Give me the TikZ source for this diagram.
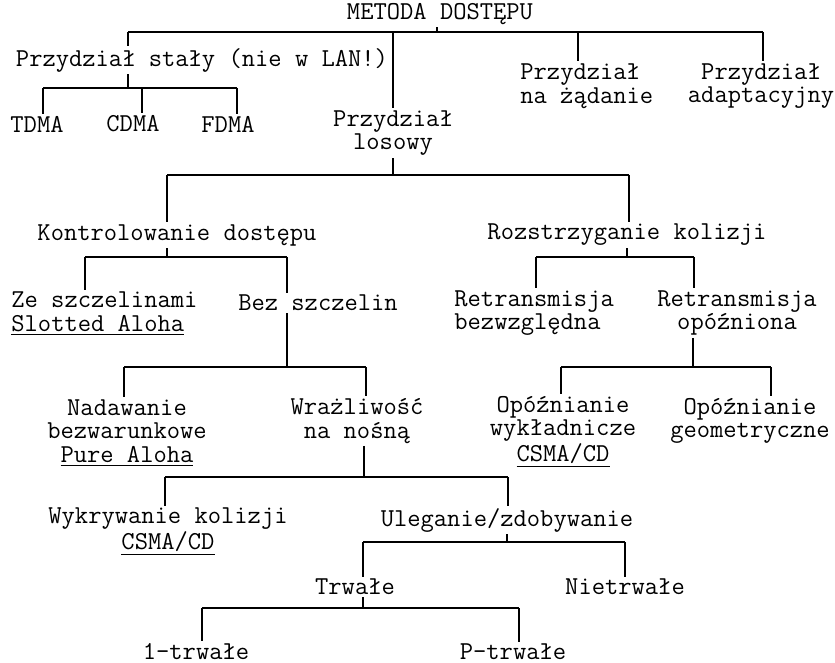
\documentclass[tikz,border=0pt]{standalone}
\usepackage{fontspec}
\tikzset{
  lbl/.style={font=\ttfamily\fontsize{12.9}{11.8}\selectfont,inner sep=1pt,align=center},
  lbll/.style={lbl,align=left,anchor=west},
  ln/.style={line width=0.8pt},
}

\begin{document}
\begin{tikzpicture}[x=0.5pt,y=-0.5pt]
  \useasboundingbox (0,0) rectangle (835,663);
  % labels
  \node[lbl] (root) at (440,14) {METODA DOSTĘPU};
  \node[lbl] (przst) at (202,60) {Przydział stały (nie w LAN!)};
  \node[lbll] (przzad) at (518,86) {Przydział\\na żądanie};
  \node[lbl] (przad) at (761,86) {Przydział\\adaptacyjny};
  \node[lbl] (przlos) at (393,133) {Przydział\\losowy};
  \node[lbl] (tdma) at (37,124) {TDMA};
  \node[lbl] (cdma) at (133,124) {CDMA};
  \node[lbl] (fdma) at (228,124) {FDMA};
  \node[lbl] (kontr) at (177,235) {Kontrolowanie dostępu};
  \node[lbl] (rozstr) at (627,235) {Rozstrzyganie kolizji};
  \node[lbll] (zesz) at (9,314) {Ze szczelinami\\\underline{Slotted Aloha}};
  \node[lbl] (bezsz) at (318,303) {Bez szczelin};
  \node[lbll] (rbezw) at (452,313) {Retransmisja\\bezwzględna};
  \node[lbl] (ropozn) at (737,313) {Retransmisja\\opóźniona};
  \node[lbl] (nadaw) at (127,433) {Nadawanie\\bezwarunkowe\\\underline{Pure Aloha}};
  \node[lbl] (wrazl) at (357,421) {Wrażliwość\\na nośną};
  \node[lbl] (owykl) at (563,432) {Opóźnianie\\wykładnicze\\\underline{CSMA/CD}};
  \node[lbl] (ogeom) at (750,421) {Opóźnianie\\geometryczne};
  \node[lbl] (wykr) at (168,532) {Wykrywanie kolizji\\\underline{CSMA/CD}};
  \node[lbl] (uleg) at (507,520) {Uleganie/zdobywanie};
  \node[lbl] (trw) at (355,587) {Trwałe};
  \node[lbl] (nietrw) at (625,587) {Nietrwałe};
  \node[lbl] (trw1) at (196,652) {1-trwałe};
  \node[lbl] (ptrw) at (513,652) {P-trwałe};

  % junctions on the bus lines
  \coordinate (j0r) at (437,32);
  \coordinate (j0a) at (128,32); \coordinate (j0b) at (393,32);
  \coordinate (j0c) at (578,32); \coordinate (j0d) at (763,32);
  \coordinate (j1r) at (128,88);
  \coordinate (j1a) at (43,88); \coordinate (j1b) at (142,88); \coordinate (j1c) at (237,88);
  \coordinate (j2r) at (393,175);
  \coordinate (j2a) at (167,175); \coordinate (j2b) at (629,175);
  \coordinate (j3r) at (167,257);
  \coordinate (j3a) at (85,257); \coordinate (j3b) at (287,257);
  \coordinate (j3s) at (627,257);
  \coordinate (j3c) at (536,257); \coordinate (j3d) at (694,257);
  \coordinate (j4r) at (287,367);
  \coordinate (j4a) at (124,367); \coordinate (j4b) at (366,367);
  \coordinate (j8r) at (693,367);
  \coordinate (j8a) at (561,367); \coordinate (j8b) at (771,367);
  \coordinate (j5r) at (364,477);
  \coordinate (j5a) at (165,477); \coordinate (j5b) at (508,477);
  \coordinate (j6r) at (507,542);
  \coordinate (j6a) at (363,542); \coordinate (j6b) at (625,542);
  \coordinate (j7r) at (363,608);
  \coordinate (j7a) at (202,608); \coordinate (j7b) at (519,608);

  % connectors
  \draw[ln] (root.south -| j0r) -- (j0r);
  \draw[ln] (j0a) -- (j0d);
  \draw[ln] (j0a) -- (j0a |- przst.north);
  \draw[ln] (j0b) -- (j0b |- przlos.north);
  \draw[ln] (j0c) -- (j0c |- przzad.north);
  \draw[ln] (j0d) -- (j0d |- przad.north);

  \draw[ln] (przst.south -| j1r) -- (j1r);
  \draw[ln] (j1a) -- (j1c);
  \draw[ln] (j1a) -- (j1a |- tdma.north);
  \draw[ln] (j1b) -- (j1b |- cdma.north);
  \draw[ln] (j1c) -- (j1c |- fdma.north);

  \draw[ln] (przlos.south -| j2r) -- (j2r);
  \draw[ln] (j2a) -- (j2b);
  \draw[ln] (j2a) -- (j2a |- kontr.north);
  \draw[ln] (j2b) -- (j2b |- rozstr.north);

  \draw[ln] (kontr.south -| j3r) -- (j3r);
  \draw[ln] (j3a) -- (j3b);
  \draw[ln] (j3a) -- (j3a |- zesz.north);
  \draw[ln] (j3b) -- (j3b |- bezsz.north);

  \draw[ln] (rozstr.south -| j3s) -- (j3s);
  \draw[ln] (j3c) -- (j3d);
  \draw[ln] (j3c) -- (j3c |- rbezw.north);
  \draw[ln] (j3d) -- (j3d |- ropozn.north);

  \draw[ln] (bezsz.south -| j4r) -- (j4r);
  \draw[ln] (j4a) -- (j4b);
  \draw[ln] (j4a) -- (j4a |- nadaw.north);
  \draw[ln] (j4b) -- (j4b |- wrazl.north);

  \draw[ln] (ropozn.south -| j8r) -- (j8r);
  \draw[ln] (j8a) -- (j8b);
  \draw[ln] (j8a) -- (j8a |- owykl.north);
  \draw[ln] (j8b) -- (j8b |- ogeom.north);

  \draw[ln] (wrazl.south -| j5r) -- (j5r);
  \draw[ln] (j5a) -- (j5b);
  \draw[ln] (j5a) -- (j5a |- wykr.north);
  \draw[ln] (j5b) -- (j5b |- uleg.north);

  \draw[ln] (uleg.south -| j6r) -- (j6r);
  \draw[ln] (j6a) -- (j6b);
  \draw[ln] (j6a) -- (j6a |- trw.north);
  \draw[ln] (j6b) -- (j6b |- nietrw.north);

  \draw[ln] (trw.south -| j7r) -- (j7r);
  \draw[ln] (j7a) -- (j7b);
  \draw[ln] (j7a) -- (j7a |- trw1.north);
  \draw[ln] (j7b) -- (j7b |- ptrw.north);
\end{tikzpicture}
\end{document}
